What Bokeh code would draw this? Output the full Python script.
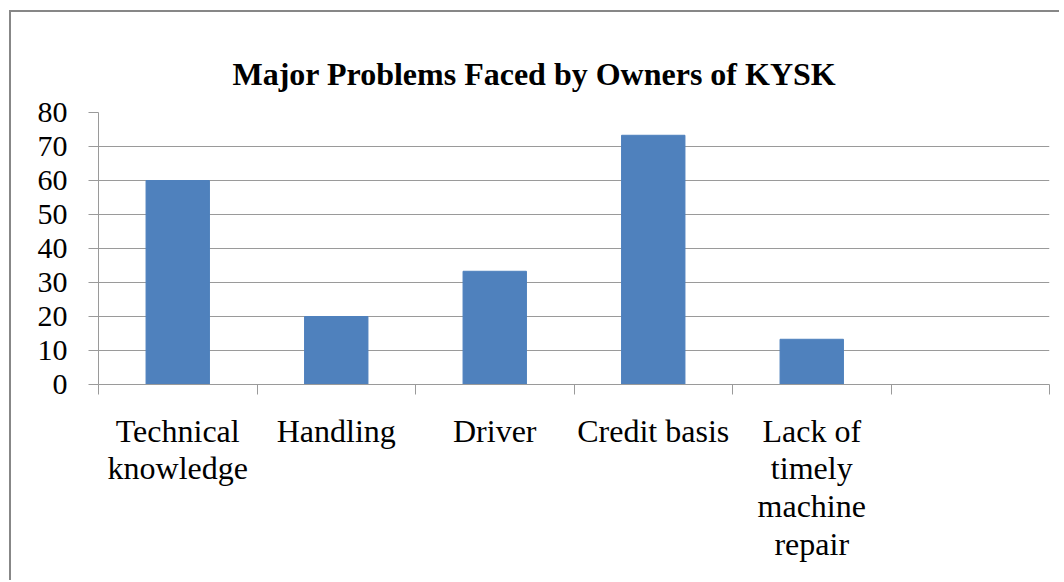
from bokeh.plotting import figure
from bokeh.models import (LinearAxis, CategoricalAxis, Range1d, FixedTicker,
                          FactorRange, Title)
from bokeh.embed import file_html
from bokeh.resources import INLINE

# ---- data ----
categories = ["Technical\nknowledge", "Handling", "Driver", "Credit basis",
              "Lack of\ntimely\nmachine\nrepair", " "]
bar_categories = ["Technical\nknowledge", "Handling", "Driver", "Credit basis",
                  "Lack of\ntimely\nmachine\nrepair"]
values = [60, 20, 33.3, 73.3, 13.3]
y_ticks = [0, 10, 20, 30, 40, 50, 60, 70, 80]
title_text = "Major Problems Faced by Owners of KYSK"

FONT = "Liberation Serif"
GRID = "#9a9a9a"
BAR = "#4F81BD"

p = figure(x_range=FactorRange(*categories), y_range=Range1d(0, 80),
           width=1050, height=570, output_backend="svg", toolbar_location=None,
           x_axis_location=None, y_axis_location="left",
           min_border_left=87, min_border_right=12, min_border_top=100,
           min_border_bottom=198)

p.styles = {"margin-left": "9px", "margin-top": "10px",
            "border-left": "2px solid #878787", "border-top": "2px solid #878787"}

p.title = Title(text=title_text, text_font=FONT, text_font_size="32px",
                text_font_style="bold", text_color="black", align="left",
                offset=134, standoff=41)

p.vbar(x=bar_categories, top=values, width=0.4, fill_color=BAR, line_color=BAR)

# y axis
ya = p.yaxis[0]
ya.ticker = FixedTicker(ticks=y_ticks)
ya.major_tick_out = 10
ya.major_tick_in = 0
ya.minor_tick_line_color = None
ya.axis_line_color = GRID
ya.major_tick_line_color = GRID
ya.major_label_text_font = FONT
ya.major_label_text_font_size = "30px"
ya.major_label_text_color = "black"
ya.major_label_standoff = 21

p.ygrid.grid_line_color = GRID
p.ygrid.ticker = FixedTicker(ticks=y_ticks)
p.xgrid.grid_line_color = None
p.outline_line_color = None

# x axis with tick marks at category boundaries (numeric positions on factor range)
edge_ticks = list(range(len(categories) + 1))
edge_axis = LinearAxis(ticker=FixedTicker(ticks=edge_ticks),
                       major_tick_out=10, major_tick_in=0,
                       minor_tick_line_color=None,
                       major_label_overrides={t: "" for t in edge_ticks},
                       major_label_text_font_size="1px",
                       major_label_standoff=0,
                       axis_line_color=GRID, major_tick_line_color=GRID)
p.add_layout(edge_axis, "below")

cat_axis = CategoricalAxis(axis_line_color=None, major_tick_line_color=None,
                           minor_tick_line_color=None,
                           major_label_text_font=FONT,
                           major_label_text_font_size="32px",
                           major_label_text_color="black",
                           major_label_text_line_height=1.05,
                           major_label_standoff=12)
p.add_layout(cat_axis, "below")

open("out.html", "w").write(file_html(p, INLINE))
